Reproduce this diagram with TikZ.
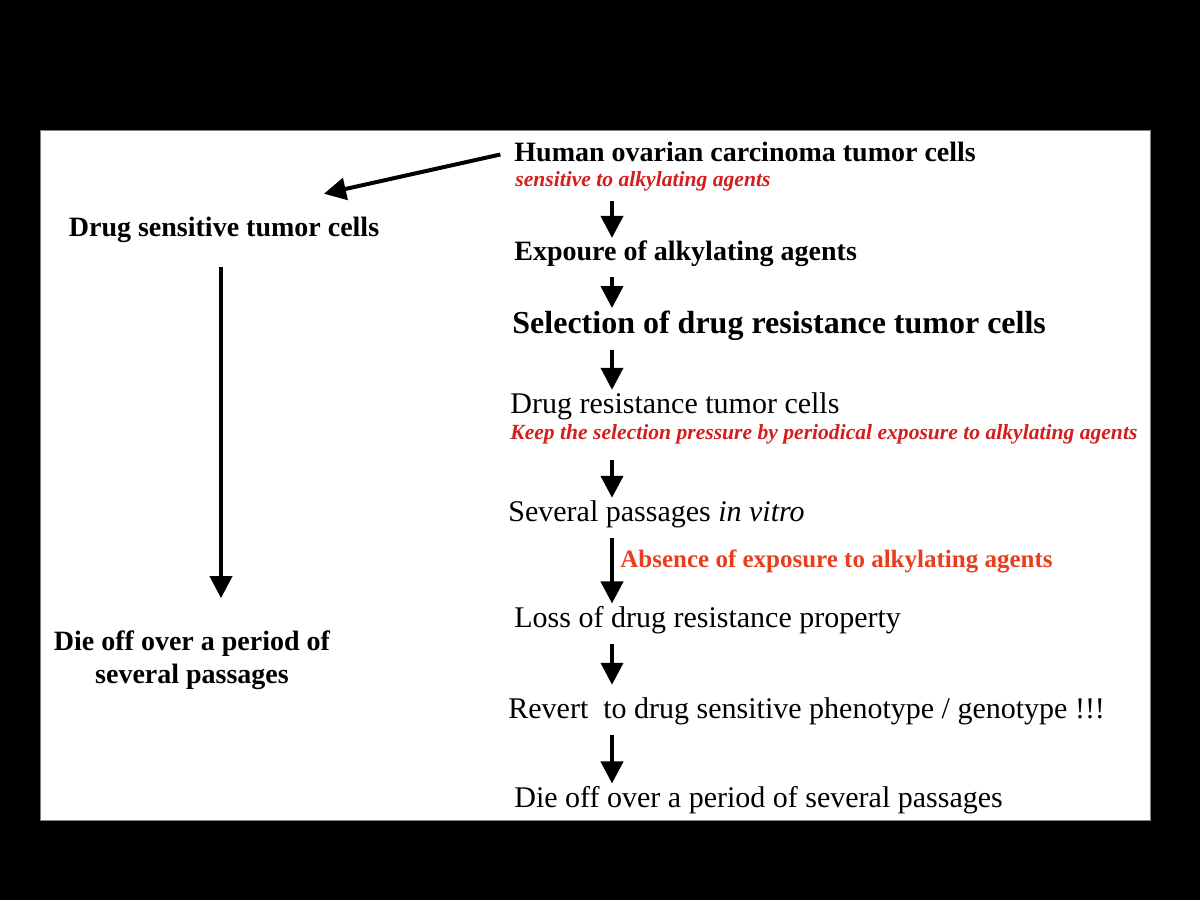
\documentclass[tikz,border=0pt]{standalone}
\usepackage{fontspec}
\setmainfont{Liberation Serif}
\usetikzlibrary{arrows.meta, calc, positioning}

\definecolor{selred}{RGB}{212,30,30}
\definecolor{absred}{RGB}{232,62,30}

\tikzset{
    step text/.style={anchor=base west, inner sep=0pt, font=\fontsize{15}{17}\selectfont},
    bold text/.style={step text, font=\fontsize{14}{16.5}\selectfont\bfseries},
    note text/.style={anchor=base west, inner sep=0pt, text=selred, font=\fontsize{10.8}{12}\selectfont\bfseries\itshape},
    flow/.style={line width=2pt, -{Triangle[width=11pt, length=11pt]}, shorten <=5pt, shorten >=1pt}
}

\begin{document}
\begin{tikzpicture}[x=0.5pt, y=-0.5pt]
                        \fill[black] (0, 0) rectangle (1200, 900);
                        \fill[white, draw=gray] (40, 130) rectangle (1150, 820);
                        \coordinate (col) at (612, 0);
                        \coordinate (lcol) at (221, 0);
                        \node[bold text] (human) at (514, 161) {Human ovarian carcinoma tumor cells};
                        \node[note text] (humansub) at (515, 186) {sensitive to alkylating agents};
                        \node[bold text] (expo) at (514, 260) {Expoure of alkylating agents};
                        \node[bold text, font=\fontsize{16}{18}\selectfont\bfseries] (select) at (512, 333) {Selection of drug resistance tumor cells};
                        \node[step text] (resist) at (510, 413) {Drug resistance tumor cells};
                        \node[note text] (keep) at (510, 439) {Keep the selection pressure by periodical exposure to alkylating agents};
                        \node[step text] (passage) at (508, 521) {Several passages \textit{in vitro}};
                        \node[anchor=base west, inner sep=0pt, text=absred, font=\fontsize{12.5}{14}\selectfont\bfseries] (absence) at (620, 567) {Absence of exposure to alkylating agents};
                        \node[step text] (loss) at (514, 627) {Loss of drug resistance property};
                        \node[step text] (revert) at (508, 718) {Revert\ \ to drug sensitive phenotype / genotype !!!};
                        \node[step text] (dieoff) at (514, 807) {Die off over a period of several passages};
                        \node[bold text, anchor=base] (sens) at (224, 236) {Drug sensitive tumor cells};
                        \node[bold text, anchor=center, align=center, font=\fontsize{14}{16.5}\selectfont\bfseries] (dieleft) at (192, 660) {Die off over a period of\\several passages};
                        \draw[flow, shorten <=7pt] (human.west) -- ([xshift=49pt, yshift=11pt]sens.north);
                        \draw[flow, shorten <=12pt, shorten >=16pt] (sens.south -| lcol) -- (dieleft.north -| lcol);
                        \draw[flow] (humansub.south -| col) -- (expo.north -| col);
                        \draw[flow] (expo.south -| col) -- (select.north -| col);
                        \draw[flow] (select.south -| col) -- (resist.north -| col);
                        \draw[flow, shorten <=8pt] (keep.south -| col) -- (passage.north -| col);
                        \draw[flow] (passage.south -| col) -- (loss.north -| col);
                        \draw[flow, shorten >=6pt] (loss.south -| col) -- (revert.north -| col);
                        \draw[flow] (revert.south -| col) -- (dieoff.north -| col);
                    \end{tikzpicture}
\end{document}
